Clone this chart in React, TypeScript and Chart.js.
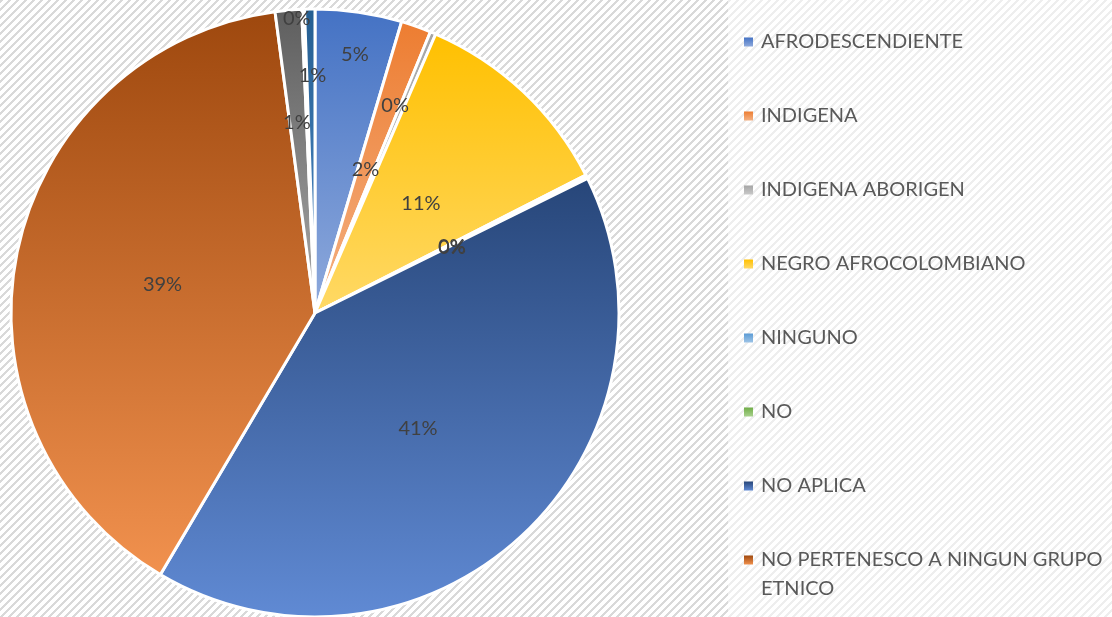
import { useEffect, useRef } from "react";
import { Chart, registerables } from "chart.js";

Chart.register(...registerables);

// ---- data ----
const categories = [
  "AFRODESCENDIENTE",
  "INDIGENA",
  "INDIGENA ABORIGEN",
  "NEGRO AFROCOLOMBIANO",
  "NINGUNO",
  "NO",
  "NO APLICA",
  "NO PERTENESCO A NINGUN GRUPO ETNICO",
  "",
  "",
  "",
];
const values = [4.6, 1.6, 0.3, 11.0, 0.1, 0.1, 40.8, 39.4, 1.4, 0.15, 0.55];
const legendCount = 8;

// ---- style ----
const baseColors = [
  "#4472C4", "#ED7D31", "#A5A5A5", "#FFC000", "#5B9BD5", "#70AD47",
  "#274679", "#9E480E", "#5E5E5E", "#997300", "#255E91",
];
const tintColors = [
  "#8FAADC", "#F4B183", "#C9C9C9", "#FFD966", "#9DC3E6", "#A9D18E",
  "#608AD4", "#F1914E", "#A8A8A8", "#D9A300", "#4F8BC9",
];
const labelRadius = [0.86, 0.5, 0.73, 0.5, 0.5, 0.5, 0.51, 0.51, 0.63, 0.97, 0.78];
const labelAngleShift = [0.5, 0, -1.7, 1, 0.9, 0.9, 1.2, -1.1, -0.4, -1.3, 0.4];

const W = 1112;
const H = 617;
const RADIUS = 304;
const FONT = 'Lato, "Open Sans", sans-serif';

function sliceAngles(i: number) {
  const total = values.reduce((a, b) => a + b, 0);
  let cum = 0;
  for (let j = 0; j < i; j++) cum += values[j];
  const a0 = -Math.PI / 2 + (cum / total) * Math.PI * 2;
  const a1 = a0 + (values[i] / total) * Math.PI * 2;
  return [a0, a1];
}

function makePattern(ctx: CanvasRenderingContext2D) {
  const c = document.createElement("canvas");
  c.width = 8;
  c.height = 8;
  const p = c.getContext("2d")!;
  p.fillStyle = "#ffffff";
  p.fillRect(0, 0, 8, 8);
  p.fillStyle = "#d9d9d9";
  for (let y = 0; y < 8; y++) {
    for (let x = 0; x < 8; x++) {
      if ((x + y) % 8 < 3) p.fillRect(x, y, 1, 1);
    }
  }
  return ctx.createPattern(c, "repeat")!;
}

const backgroundPlugin = {
  id: "bgPattern",
  beforeDraw(chart: any) {
    const ctx: CanvasRenderingContext2D = chart.ctx;
    ctx.save();
    ctx.fillStyle = makePattern(ctx);
    ctx.fillRect(0, 0, chart.width, chart.height);
    ctx.fillStyle = "rgba(255,255,255,0.55)";
    ctx.fillRect(728, 0, chart.width - 728, chart.height);
    ctx.restore();
  },
};

const labelPlugin = {
  id: "sliceLabels",
  afterDatasetsDraw(chart: any) {
    const ctx: CanvasRenderingContext2D = chart.ctx;
    const meta = chart.getDatasetMeta(0);
    const total = values.reduce((a, b) => a + b, 0);
    ctx.save();
    ctx.font = `20px ${FONT}`;
    ctx.fillStyle = "#404040";
    ctx.textAlign = "center";
    ctx.textBaseline = "middle";
    meta.data.forEach((arc: any, i: number) => {
      const { x, y, startAngle, endAngle, outerRadius } = arc.getProps(
        ["x", "y", "startAngle", "endAngle", "outerRadius"],
        true
      );
      const mid = (startAngle + endAngle) / 2 + (labelAngleShift[i] * Math.PI) / 180;
      const r = outerRadius * labelRadius[i];
      const txt = `${Math.round((values[i] / total) * 100)}%`;
      ctx.fillText(txt, x + Math.cos(mid) * r, y + Math.sin(mid) * r);
    });
    ctx.restore();
  },
};

function wrapText(ctx: CanvasRenderingContext2D, text: string, maxW: number) {
  const words = text.split(" ");
  const lines: string[] = [];
  let cur = "";
  for (const w of words) {
    const t = cur ? cur + " " + w : w;
    if (ctx.measureText(t).width > maxW && cur) {
      lines.push(cur);
      cur = w;
    } else cur = t;
  }
  if (cur) lines.push(cur);
  return lines;
}

const legendPlugin = {
  id: "sideLegend",
  afterDraw(chart: any) {
    const ctx: CanvasRenderingContext2D = chart.ctx;
    const boxX = 744;
    const boxSize = 9;
    const textX = 761;
    const top = 42;
    const step = 74;
    const lineH = 29;
    ctx.save();
    ctx.font = `20px ${FONT}`;
    ctx.textAlign = "left";
    ctx.textBaseline = "middle";
    for (let i = 0; i < legendCount; i++) {
      const cy = top + i * step;
      const g = ctx.createLinearGradient(0, cy - boxSize / 2, 0, cy + boxSize / 2);
      g.addColorStop(0, baseColors[i]);
      g.addColorStop(1, tintColors[i]);
      ctx.fillStyle = g;
      ctx.fillRect(boxX, cy - boxSize / 2, boxSize, boxSize);
      ctx.fillStyle = "#595959";
      const lines = wrapText(ctx, categories[i], chart.width - textX + 4);
      lines.forEach((ln, k) => ctx.fillText(ln, textX, cy + k * lineH));
    }
    ctx.restore();
  },
};

export default function App() {
  const ref = useRef<HTMLCanvasElement | null>(null);

  useEffect(() => {
    if (!ref.current) return;
    const chart = new Chart(ref.current, {
      type: "pie",
      data: {
        labels: categories,
        datasets: [
          {
            data: values,
            radius: RADIUS,
            borderColor: "#ffffff",
            borderWidth: 3,
            backgroundColor: (c: any) => {
              const area = c.chart.chartArea;
              const i = c.dataIndex;
              if (!area || i === undefined) return baseColors[i ?? 0];
              const [a0, a1] = sliceAngles(i);
              const cx = (area.left + area.right) / 2;
              const cy = (area.top + area.bottom) / 2;
              let ymin = Math.min(cy, cy + RADIUS * Math.sin(a0), cy + RADIUS * Math.sin(a1));
              let ymax = Math.max(cy, cy + RADIUS * Math.sin(a0), cy + RADIUS * Math.sin(a1));
              if (a0 <= -Math.PI / 2 + 1e-9 || a1 >= (3 * Math.PI) / 2 - 1e-9) ymin = cy - RADIUS;
              if (a0 <= Math.PI / 2 && a1 >= Math.PI / 2) ymax = cy + RADIUS;
              if (ymax - ymin < 1) ymax = ymin + 1;
              void cx;
              const g = c.chart.ctx.createLinearGradient(0, ymin, 0, ymax);
              g.addColorStop(0, baseColors[i]);
              g.addColorStop(1, tintColors[i]);
              return g;
            },
          } as any,
        ],
      },
      options: {
        responsive: false,
        animation: false,
        devicePixelRatio: 1,
        events: [],
        layout: { padding: { left: 0, right: W - 630, top: 9, bottom: 0 } },
        plugins: {
          legend: { display: false },
          tooltip: { enabled: false },
          title: { display: false },
        },
      },
      plugins: [backgroundPlugin, labelPlugin, legendPlugin],
    });
    return () => chart.destroy();
  }, []);

  return (
    <div style={{ position: "fixed", left: 0, top: 0, width: W, height: H, overflow: "hidden" }}>
      <canvas ref={ref} width={W} height={H} style={{ display: "block", width: W, height: H }} />
    </div>
  );
}
